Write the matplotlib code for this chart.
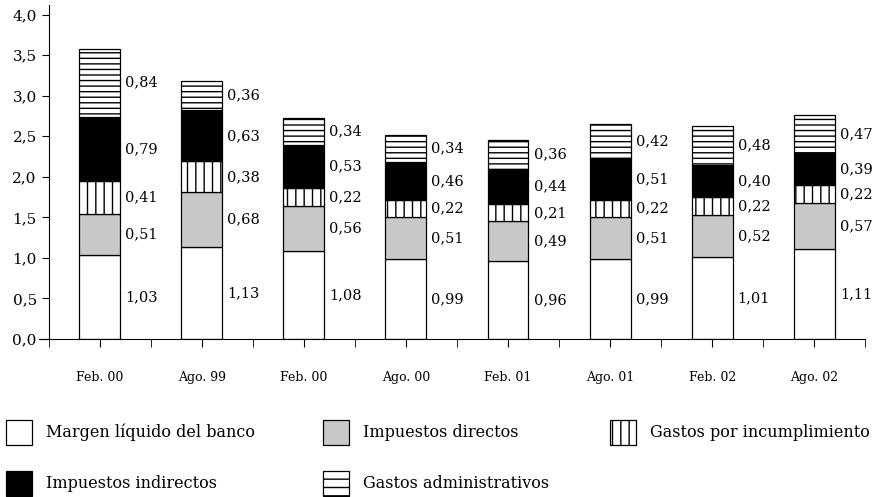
import matplotlib

matplotlib.use("Agg")
import matplotlib.pyplot as plt
from matplotlib.patches import Patch
from matplotlib.ticker import FuncFormatter

periodos = ["Feb. 00", "Ago. 99", "Feb. 00", "Ago. 00", "Feb. 01", "Ago. 01", "Feb. 02", "Ago. 02"]
margen = [1.03, 1.13, 1.08, 0.99, 0.96, 0.99, 1.01, 1.11]
imp_directos = [0.51, 0.68, 0.56, 0.51, 0.49, 0.51, 0.52, 0.57]
gastos_incump = [0.41, 0.38, 0.22, 0.22, 0.21, 0.22, 0.22, 0.22]
imp_indirectos = [0.79, 0.63, 0.53, 0.46, 0.44, 0.51, 0.40, 0.39]
gastos_admin = [0.84, 0.36, 0.34, 0.34, 0.36, 0.42, 0.48, 0.47]

series = [
    ("Margen líquido del banco", margen, "white", ""),
    ("Impuestos directos", imp_directos, "#c8c8c8", ""),
    ("Gastos por incumplimiento", gastos_incump, "white", "||"),
    ("Impuestos indirectos", imp_indirectos, "black", ""),
    ("Gastos administrativos", gastos_admin, "white", "---"),
]

plt.rcParams["font.family"] = ["DejaVu Serif"]
plt.rcParams["hatch.linewidth"] = 1.0


def coma(v, pos=None):
    return f"{v:.1f}".replace(".", ",")


fig = plt.figure(figsize=(8.75, 4.97), dpi=100)
ax = fig.add_axes([0.045, 0.318, 0.944, 0.672])

x = list(range(len(periodos)))
bottom = [0.0] * len(periodos)
handles = {}
for nombre, vals, color, hatch in series:
    ax.bar(x, vals, width=0.4, bottom=bottom, color=color, edgecolor="black",
           linewidth=0.9, hatch=hatch)
    handles[nombre] = Patch(facecolor=color, edgecolor="black", linewidth=0.9,
                            hatch=hatch.replace("---", "--"))
    for i, v in enumerate(vals):
        ax.text(i + 0.25, bottom[i] + v / 2, f"{v:.2f}".replace(".", ","),
                va="center", ha="left", fontsize=10.5)
    bottom = [b + v for b, v in zip(bottom, vals)]

ax.set_xlim(-0.59, 7.5)
ax.set_ylim(0, 4.12)
ax.spines["top"].set_visible(False)
ax.spines["right"].set_visible(False)
ax.spines["left"].set_position(("data", -0.5))

ax.set_yticks([0, 0.5, 1, 1.5, 2, 2.5, 3, 3.5, 4])
ax.yaxis.set_major_formatter(FuncFormatter(coma))
ax.tick_params(axis="y", direction="out", length=5, labelsize=11)

ax.set_xticks(x)
ax.set_xticklabels(periodos)
ax.set_xticks([i - 0.5 for i in range(len(periodos) + 1)], minor=True)
ax.tick_params(axis="x", which="both", direction="out", length=6, labelsize=9, pad=17)

# leyenda en tres columnas colocadas a mano
columnas = [
    (6, ["Margen líquido del banco", "Impuestos indirectos"]),
    (323, ["Impuestos directos", "Gastos administrativos"]),
    (610, ["Gastos por incumplimiento"]),
]
for xpix, nombres in columnas:
    fig.legend([handles[n] for n in nombres], nombres, loc="upper left",
               bbox_to_anchor=(xpix / 875, 1 - 420 / 497), frameon=False,
               fontsize=11.5, handlelength=1.6, handleheight=2.0,
               labelspacing=1.65, handletextpad=0.9, borderpad=0, borderaxespad=0)

fig.savefig("out.png", dpi=100)
